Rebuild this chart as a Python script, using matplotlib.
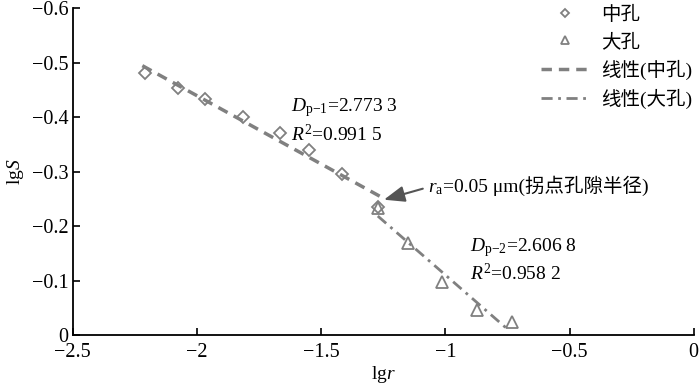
import matplotlib
matplotlib.use('Agg')
import matplotlib.pyplot as plt
import numpy as np

plt.rcParams['font.family'] = ['Liberation Serif', 'Noto Sans CJK SC']
plt.rcParams['mathtext.fontset'] = 'custom'
plt.rcParams['mathtext.rm'] = 'Liberation Serif'
plt.rcParams['mathtext.it'] = 'Liberation Serif:italic'
plt.rcParams['font.size'] = 14

# data
mid_x = [-2.210, -2.077, -1.969, -1.816, -1.667, -1.550, -1.417, -1.272]
mid_y = [-0.481, -0.453, -0.433, -0.400, -0.371, -0.339, -0.295, -0.235]
big_x = [-1.272, -1.151, -1.014, -0.874, -0.733]
big_y = [-0.233, -0.169, -0.097, -0.046, -0.024]
labels = ['中孔', '大孔', '线性(中孔)', '线性(大孔)']

gray = '#808080'

fig = plt.figure(figsize=(7, 3.86), dpi=100)
ax = fig.add_axes([0.104, 0.132, 0.887, 0.847])

ax.plot(mid_x, mid_y, 'D', ms=6.5, mfc='none', mec=gray, mew=1.3, label=labels[0])
ax.plot(big_x, big_y, '^', ms=8, mfc='none', mec=gray, mew=1.3, label=labels[1])

k1, b1 = np.polyfit(mid_x, mid_y, 1)
xx1 = np.array([min(mid_x) - 0.01, max(mid_x) + 0.02])
ax.plot(xx1, k1 * xx1 + b1, '--', color=gray, lw=2.5, dashes=(3, 2), label=labels[2])

k2, b2 = np.polyfit(big_x, big_y, 1)
xx2 = np.array([min(big_x), max(big_x) - 0.01])
ax.plot(xx2, k2 * xx2 + b2, '-.', color=gray, lw=2, dashes=(4, 2, 1, 2), label=labels[3])

ax.set_xlim(-2.5, 0)
ax.set_ylim(0, -0.6)
ax.set_xticks([-2.5, -2, -1.5, -1, -0.5, 0])
ax.set_xticklabels(['\u22122.5', '\u22122', '\u22121.5', '\u22121', '\u22120.5', '0'])
ax.set_yticks([0, -0.1, -0.2, -0.3, -0.4, -0.5, -0.6])
ax.set_yticklabels(['0', '\u22120.1', '\u22120.2', '\u22120.3', '\u22120.4', '\u22120.5', '\u22120.6'])
ax.tick_params(direction='in', length=5, width=1.2, labelsize=14.5)
ax.tick_params(axis='x', pad=6)
ax.tick_params(axis='y', pad=3)
ax.spines['top'].set_visible(False)
ax.spines['right'].set_visible(False)
ax.spines['left'].set_linewidth(1.3)
ax.spines['bottom'].set_linewidth(1.3)
ax.set_xlabel('lg$r$', fontsize=14, labelpad=1)
ax.set_ylabel('lg$S$', fontsize=14, labelpad=4)

ax.text(-1.622, -0.411, r'$D_{\mathrm{p}\mathrm{-1}}$=2.773 3', fontsize=14, va='baseline')
ax.text(-1.622, -0.356, r'$R^{2}$=0.991 5', fontsize=14, va='baseline')
ax.text(-0.902, -0.154, r'$D_{\mathrm{p}\mathrm{-2}}$=2.606 8', fontsize=14, va='baseline')
ax.text(-0.902, -0.101, r'$R^{2}$=0.958 2', fontsize=14, va='baseline')

t1 = ax.text(-1.071, -0.262, r'$r_{\mathrm{a}}$', fontsize=14, va='baseline')
fig.canvas.draw()
bb = t1.get_window_extent(fig.canvas.get_renderer())
x_end = ax.transData.inverted().transform((bb.x1, bb.y0))[0]
ax.text(x_end, -0.262, '=0.05 μm(拐点孔隙半径)', fontsize=14, va='baseline')

ax.annotate('', xy=(-1.258, -0.247), xytext=(-1.08, -0.27),
            arrowprops=dict(arrowstyle='-|>,head_length=0.9,head_width=0.35',
                            color='#555555', lw=1.5))

leg = ax.legend(loc='upper right', frameon=False, fontsize=14, handlelength=2.5,
                labelspacing=0.45, borderaxespad=0.0, bbox_to_anchor=(1.01, 1.03),
                handletextpad=0.6, markerscale=0.7)

fig.savefig('out.png', dpi=100)
